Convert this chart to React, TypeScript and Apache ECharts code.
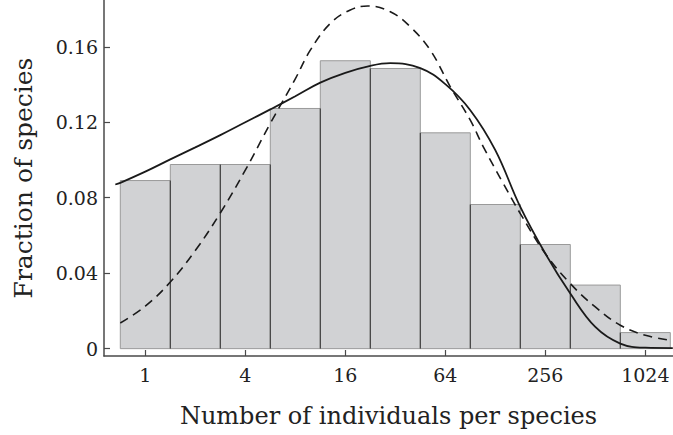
import React, { useEffect, useRef } from "react";
import * as echarts from "echarts";

// Histogram: octave classes (abundance at bin centre) and fraction of species
const octaveCentres = [1, 2, 4, 8, 16, 32, 64, 128, 256, 512, 1024];
const speciesFractions = [0.0891, 0.0976, 0.0976, 0.1273, 0.1526, 0.1485, 0.1144, 0.0764, 0.0552, 0.0337, 0.0085];

// Axis ticks
const xTickValues = [1, 4, 16, 64, 256, 1024];
const yTickValues = [0, 0.04, 0.08, 0.12, 0.16];

// Solid fitted curve (x in log2 of abundance)
const solidLog2 = [-0.6, -0.5, 0, 0.5, 1, 1.5, 2, 2.5, 3, 3.5, 4, 4.5, 4.9, 5.5, 6, 6.5, 7, 7.5, 8, 8.5, 9, 9.5, 10, 10.55];
const solidFrac = [0.087, 0.0879, 0.0938, 0.1003, 0.1067, 0.1132, 0.12, 0.1268, 0.1338, 0.141, 0.1462, 0.1499, 0.1513, 0.1487, 0.1402, 0.1264, 0.1052, 0.0751, 0.0504, 0.0292, 0.0115, 0.0027, 0.0005, 0.0003];

// Dashed fitted curve (x in log2 of abundance)
const dashedLog2 = [-0.5, 0, 0.5, 1, 1.5, 2, 2.5, 3, 3.3, 3.7, 4.1, 4.45, 4.9, 5.3, 5.7, 6.1, 6.5, 6.76, 7.16, 7.5, 8, 8.5, 9, 9.5, 10, 10.55];
const dashedFrac = [0.0136, 0.0225, 0.0353, 0.052, 0.0719, 0.0946, 0.1194, 0.143, 0.1582, 0.1724, 0.1795, 0.1816, 0.1786, 0.1706, 0.1582, 0.1388, 0.1211, 0.107, 0.0875, 0.0716, 0.0504, 0.0345, 0.0221, 0.0124, 0.0071, 0.0042];

const BIN_WIDTH = 1; // one octave
const FONT = "DejaVu Serif";
const AXIS_COLOR = "#4a4a4a";

export default function App() {
  const ref = useRef<HTMLDivElement>(null);

  useEffect(() => {
    if (!ref.current) return;
    const chart = echarts.init(ref.current, undefined, { renderer: "svg" });

    const barData = octaveCentres.map((c, i) => [
      Math.log2(c),
      speciesFractions[i],
      i > 0 ? speciesFractions[i - 1] : -1,
    ]);

    const option: any = {
      animation: false,
      backgroundColor: "#ffffff",
      textStyle: { fontFamily: FONT },
      grid: { left: 104, right: 0, top: 0, bottom: 79, containLabel: false, outerBoundsMode: "none" },
      xAxis: {
        type: "value",
        min: -0.826,
        max: 10.554,
        name: "Number of individuals per species",
        nameLocation: "middle",
        nameGap: 48,
        nameTextStyle: { fontFamily: FONT, fontSize: 24, color: "#222" },
        axisLine: { show: true, onZero: false, lineStyle: { color: AXIS_COLOR, width: 1.5 } },
        axisTick: {
          show: true,
          inside: true,
          length: 6,
          customValues: xTickValues.map((v) => Math.log2(v)),
          lineStyle: { color: AXIS_COLOR, width: 1.2 },
        },
        axisLabel: {
          customValues: xTickValues.map((v) => Math.log2(v)),
          formatter: (v: number) => String(Math.round(Math.pow(2, v))),
          fontFamily: FONT,
          fontSize: 19,
          color: "#222",
          margin: 9,
        },
        splitLine: { show: false },
      },
      yAxis: {
        type: "value",
        min: -0.0039,
        max: 0.1848,
        name: "Fraction of species",
        nameLocation: "middle",
        nameGap: 68,
        nameTextStyle: { fontFamily: FONT, fontSize: 25, color: "#222" },
        axisLine: { show: true, onZero: false, lineStyle: { color: AXIS_COLOR, width: 1.5 } },
        axisTick: {
          show: true,
          inside: true,
          length: 6,
          customValues: yTickValues,
          lineStyle: { color: AXIS_COLOR, width: 1.2 },
        },
        axisLabel: {
          customValues: yTickValues,
          formatter: (v: number) => (Math.abs(v) < 1e-9 ? "0" : v.toFixed(2)),
          fontFamily: FONT,
          fontSize: 19,
          color: "#222",
          margin: 6,
        },
        splitLine: { show: false },
      },
      series: [
        {
          type: "custom",
          z: 1,
          encode: { x: 0, y: 1 },
          data: barData,
          renderItem: (params: any, api: any) => {
            const x = api.value(0);
            const v = api.value(1);
            const prev = api.value(2);
            const tl = api.coord([x - BIN_WIDTH / 2, v]);
            const br = api.coord([x + BIN_WIDTH / 2, 0]);
            const children: any[] = [
              {
                type: "rect",
                shape: { x: tl[0], y: tl[1], width: br[0] - tl[0], height: br[1] - tl[1] },
                style: { fill: "#d1d2d4", stroke: "#9a9a9a", lineWidth: 1 },
              },
            ];
            if (prev >= 0) {
              const top = api.coord([x - BIN_WIDTH / 2, Math.min(prev, v)]);
              children.push({
                type: "line",
                shape: { x1: tl[0], y1: br[1], x2: tl[0], y2: top[1] },
                style: { stroke: "#333333", lineWidth: 1 },
              });
            }
            return { type: "group", children };
          },
        },
        {
          type: "line",
          z: 3,
          data: solidLog2.map((x, i) => [x, solidFrac[i]]),
          smooth: 0.4,
          symbol: "none",
          lineStyle: { color: "#1a1a1a", width: 1.8 },
        },
        {
          type: "line",
          z: 3,
          data: dashedLog2.map((x, i) => [x, dashedFrac[i]]),
          smooth: 0.4,
          symbol: "none",
          lineStyle: { color: "#1a1a1a", width: 1.6, type: [9, 6] },
        },
      ],
    };

    chart.setOption(option);
    return () => chart.dispose();
  }, []);

  return (
    <div
      ref={ref}
      style={{ position: "absolute", left: 0, top: 0, width: 673, height: 435 }}
    />
  );
}
